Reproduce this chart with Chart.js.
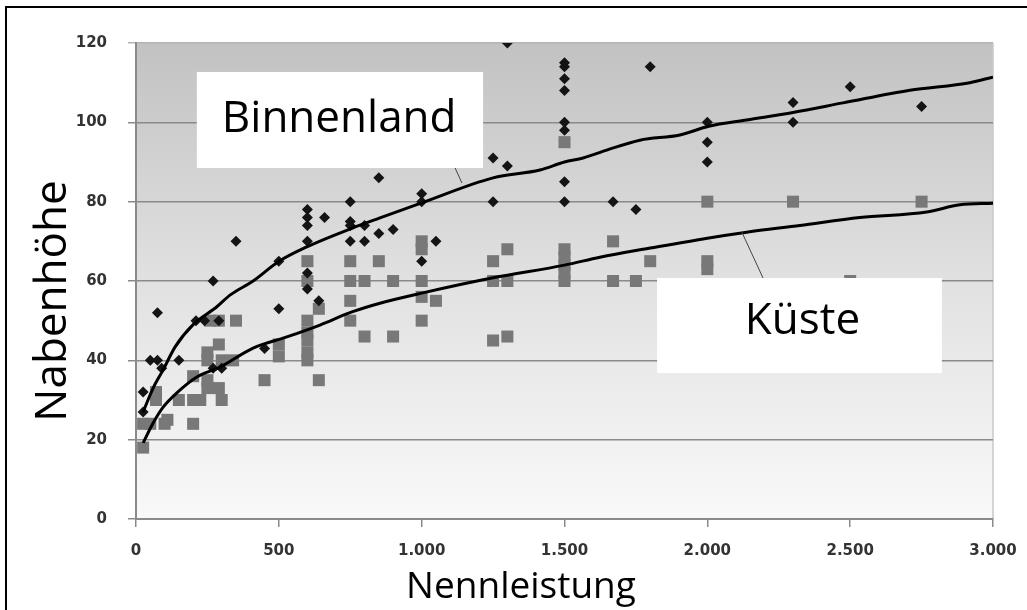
<!DOCTYPE html>
<html>
<head>
<meta charset="utf-8">
<script src="https://cdn.jsdelivr.net/npm/chart.js@4/dist/chart.umd.min.js"></script>
<style>
  html, body { margin: 0; padding: 0; background: #fff; overflow: hidden; }
  #frame { position: absolute; left: 5px; top: 6px; width: 1100px; height: 700px; border: 2px solid #000; }
  #wrap { position: absolute; left: 0; top: 0; width: 1027px; height: 610px; }
</style>
</head>
<body>
<div id="frame"></div>
<div id="wrap"><canvas id="chart" width="1027" height="610"></canvas></div>
<script>
// === Daten ===
const xTickValues = [0, 500, 1000, 1500, 2000, 2500, 3000];
const xTickLabels = ['0', '500', '1.000', '1.500', '2.000', '2.500', '3.000'];
const yTickValues = [0, 20, 40, 60, 80, 100, 120];
const yTickLabels = ['0', '20', '40', '60', '80', '100', '120'];

// Binnenland – Rauten
const binnenX = [25, 25, 50, 75, 90, 75, 150, 210, 240, 290, 270, 270, 300, 350, 450, 500, 500,
  600, 600, 600, 600, 600, 600, 640, 660, 750, 750, 750, 750, 800, 800, 850, 850, 900,
  1000, 1000, 1000, 1050, 1250, 1250, 1300, 1300,
  1500, 1500, 1500, 1500, 1500, 1500, 1500, 1500, 1670, 1750, 1800,
  2000, 2000, 2000, 2300, 2300, 2500, 2750];
const binnenY = [32, 27, 40, 40, 38, 52, 40, 50, 50, 50, 60, 38, 38, 70, 43, 53, 65,
  78, 76, 74, 70, 62, 58, 55, 76, 80, 75, 74, 70, 74, 70, 86, 72, 73,
  82, 80, 65, 70, 91, 80, 89, 120,
  115, 114, 111, 108, 100, 98, 85, 80, 80, 78, 114,
  100, 95, 90, 105, 100, 109, 104];

// Küste – Quadrate
const kuesteX = [25, 25, 50, 70, 70, 100, 110, 150, 200, 200, 200, 225, 250, 250, 250, 250,
  260, 290, 290, 290, 300, 300, 340, 350, 450, 500, 500,
  600, 600, 600, 600, 600, 600, 600, 640, 640, 750, 750, 750, 750, 800, 800, 850, 900, 900,
  1000, 1000, 1000, 1000, 1000, 1050, 1250, 1250, 1250, 1300, 1300, 1300,
  1500, 1500, 1500, 1500, 1500, 1500, 1670, 1670, 1750, 1800,
  2000, 2000, 2000, 2300, 2500, 2750];
const kuesteY = [18, 24, 24, 32, 30, 24, 25, 30, 24, 30, 36, 30, 42, 40, 35, 33,
  50, 50, 44, 33, 30, 40, 40, 50, 35, 44, 41,
  65, 60, 50, 47, 45, 42, 40, 53, 35, 65, 60, 55, 50, 60, 46, 65, 60, 46,
  70, 68, 60, 56, 50, 55, 65, 60, 45, 68, 60, 46,
  95, 68, 66, 64, 62, 60, 70, 60, 60, 65,
  80, 65, 63, 80, 60, 80];

// Trendkurven
const binnenTrendX = [25, 60, 95, 137, 200, 283, 330, 410, 497, 598, 756, 854, 1000, 1250, 1414,
  1500, 1565, 1648, 1764, 1904, 2005, 2138, 2300, 2475, 2709, 2919, 3000];
const binnenTrendY = [27, 33, 37.6, 43.4, 49, 53.5, 56.5, 60, 64.8, 68.6, 73.3, 75.9, 79.7, 86, 88,
  90, 91, 93, 95.5, 96.8, 99, 100.6, 102.5, 104.9, 108.1, 110, 111.4];
const kuesteTrendX = [25, 60, 95, 143, 213, 294, 410, 528, 644, 756, 854, 1004, 1250, 1500, 1624,
  1800, 2000, 2138, 2324, 2534, 2768, 2884, 3000];
const kuesteTrendY = [19.2, 24.2, 28.2, 31.8, 35.8, 38.3, 43.1, 45.9, 48.9, 52.2, 54.4, 57, 60.8, 64, 66,
  68.3, 70.8, 72.3, 74, 76, 77.4, 79.2, 79.6];

// Beschriftungskästen (Wertebereich)
const labelBoxes = [
  { text: 'Binnenland', x0: 213, x1: 1215, y0: 112.7, y1: 88.5, align: 'left', leader: [1117, 88.5, 1141, 84.7] },
  { text: 'Küste', x0: 1824, x1: 2821, y0: 60.75, y1: 36.8, align: 'center', leader: [2121, 72.3, 2195, 60.75] }
];

const zip = (xs, ys) => xs.map((x, i) => ({ x: x, y: ys[i] }));

const TITLE_FONT = '"Open Sans", sans-serif';

// Hintergrund mit Verlauf
const bgPlugin = {
  id: 'bg',
  beforeDraw(chart) {
    const { ctx, chartArea: a } = chart;
    const g = ctx.createLinearGradient(0, a.top, 0, a.bottom);
    g.addColorStop(0, '#c2c2c2');
    g.addColorStop(0.5, '#e1e1e1');
    g.addColorStop(1, '#f9f9f9');
    ctx.save();
    ctx.fillStyle = g;
    ctx.fillRect(a.left, a.top, a.right - a.left, a.bottom - a.top);
    ctx.strokeStyle = '#c8c8c8';
    ctx.lineWidth = 1.5;
    ctx.beginPath();
    ctx.moveTo(a.right, a.top);
    ctx.lineTo(a.right, a.bottom);
    ctx.stroke();
    ctx.restore();
  }
};

// Kästen, Achsentitel
const textPlugin = {
  id: 'texts',
  afterDraw(chart) {
    const { ctx } = chart;
    const xs = chart.scales.x, ys = chart.scales.y;
    ctx.save();
    labelBoxes.forEach(b => {
      ctx.strokeStyle = '#444';
      ctx.lineWidth = 1;
      ctx.beginPath();
      ctx.moveTo(xs.getPixelForValue(b.leader[0]), ys.getPixelForValue(b.leader[1]));
      ctx.lineTo(xs.getPixelForValue(b.leader[2]), ys.getPixelForValue(b.leader[3]));
      ctx.stroke();
    });
    labelBoxes.forEach(b => {
      const l = xs.getPixelForValue(b.x0), r = xs.getPixelForValue(b.x1);
      const t = ys.getPixelForValue(b.y0), bt = ys.getPixelForValue(b.y1);
      ctx.fillStyle = '#fff';
      ctx.fillRect(l, t, r - l, bt - t);
      ctx.fillStyle = '#000';
      ctx.font = '44px ' + TITLE_FONT;
      ctx.textBaseline = 'middle';
      if (b.align === 'left') {
        ctx.textAlign = 'left';
        ctx.fillText(b.text, l + 25, (t + bt) / 2);
      } else {
        ctx.textAlign = 'center';
        ctx.fillText(b.text, (l + r) / 2 + 3, (t + bt) / 2 - 4);
      }
    });
    // Achsentitel
    ctx.fillStyle = '#000';
    ctx.textAlign = 'center';
    ctx.textBaseline = 'alphabetic';
    ctx.font = '37px ' + TITLE_FONT;
    ctx.fillText('Nennleistung', 521, 598);
    ctx.font = '44px ' + TITLE_FONT;
    ctx.translate(66, 301);
    ctx.rotate(-Math.PI / 2);
    ctx.fillText('Nabenhöhe', 0, 0);
    ctx.restore();
  }
};

const tickFont = { family: '"DejaVu Sans", sans-serif', weight: 'bold', size: 15 };

new Chart(document.getElementById('chart'), {
  type: 'scatter',
  data: {
    datasets: [
      {
        label: 'Trend Binnenland',
        data: zip(binnenTrendX, binnenTrendY),
        showLine: true, borderColor: '#000', borderWidth: 3, pointRadius: 0, fill: false,
        cubicInterpolationMode: 'monotone'
      },
      {
        label: 'Trend Küste',
        data: zip(kuesteTrendX, kuesteTrendY),
        showLine: true, borderColor: '#000', borderWidth: 3, pointRadius: 0, fill: false,
        cubicInterpolationMode: 'monotone'
      },
      {
        label: 'Binnenland',
        data: zip(binnenX, binnenY),
        pointStyle: 'rectRot', pointRadius: 5.5,
        backgroundColor: '#141414', borderColor: '#141414', borderWidth: 0
      },
      {
        label: 'Küste',
        data: zip(kuesteX, kuesteY),
        pointStyle: 'rect', pointRadius: 8.5,
        backgroundColor: '#787878', borderColor: '#787878', borderWidth: 0
      }
    ]
  },
  options: {
    responsive: false,
    animation: false,
    events: [],
    layout: { padding: { left: 0, top: 43, right: 34, bottom: 0 } },
    plugins: { legend: { display: false }, tooltip: { enabled: false } },
    scales: {
      x: {
        type: 'linear', min: 0, max: 3000,
        afterFit: s => { s.height = 91; s.paddingLeft = 0; s.paddingRight = 0; },
        afterBuildTicks: s => { s.ticks = xTickValues.map(v => ({ value: v })); },
        grid: { drawOnChartArea: false, drawTicks: true, tickLength: 8, color: '#8a8a8a', lineWidth: 1.5 },
        border: { display: true, color: '#8a8a8a', width: 2 },
        ticks: { callback: (v, i) => xTickLabels[i], font: tickFont, color: '#333', padding: 15, maxRotation: 0 }
      },
      y: {
        type: 'linear', min: 0, max: 120,
        afterFit: s => { s.width = 136; },
        afterBuildTicks: s => { s.ticks = yTickValues.map(v => ({ value: v })); },
        grid: {
          drawTicks: true, tickLength: 8, lineWidth: 1.5,
          color: c => (c.tick && c.tick.value === 120) ? '#b4b4b4' : '#8a8a8a'
        },
        border: { display: true, color: '#8a8a8a', width: 2 },
        ticks: { callback: (v, i) => yTickLabels[i], font: tickFont, color: '#333', padding: 21 }
      }
    }
  },
  plugins: [bgPlugin, textPlugin]
});
</script>
</body>
</html>
